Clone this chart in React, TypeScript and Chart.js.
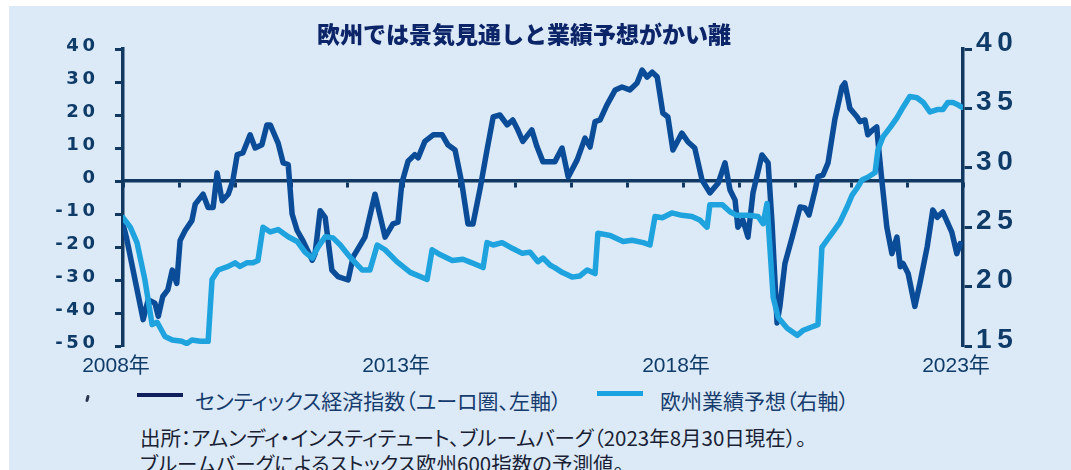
import React, { useEffect, useRef } from "react";
import { Chart, registerables } from "chart.js";

Chart.register(...registerables);

// ---- data (decimal year, value) ----
const sentixDates = [
  2008.0, 2008.06, 2008.36, 2008.45, 2008.57, 2008.63, 2008.71, 2008.8, 2008.88, 2008.96,
  2009.02, 2009.11, 2009.23, 2009.29, 2009.43, 2009.52, 2009.61, 2009.68, 2009.77, 2009.88,
  2009.96, 2010.04, 2010.14, 2010.27, 2010.36, 2010.48, 2010.57, 2010.63, 2010.77, 2010.86,
  2010.95, 2011.02, 2011.11, 2011.21, 2011.38, 2011.43, 2011.52, 2011.61, 2011.73, 2011.84,
  2012.02, 2012.11, 2012.32, 2012.5, 2012.68, 2012.82, 2012.91, 2012.98, 2013.09, 2013.21,
  2013.27, 2013.39, 2013.54, 2013.7, 2013.8, 2013.93, 2014.05, 2014.16, 2014.25, 2014.38,
  2014.5, 2014.61, 2014.73, 2014.86, 2014.96, 2015.05, 2015.14, 2015.3, 2015.39, 2015.5,
  2015.63, 2015.71, 2015.84, 2015.95, 2016.11, 2016.25, 2016.34, 2016.43, 2016.52, 2016.64,
  2016.79, 2016.91, 2017.05, 2017.18, 2017.27, 2017.36, 2017.45, 2017.54, 2017.64, 2017.73,
  2017.82, 2017.98, 2018.09, 2018.21, 2018.34, 2018.48, 2018.63, 2018.75, 2018.84, 2018.93,
  2018.98, 2019.07, 2019.16, 2019.25, 2019.41, 2019.52, 2019.59, 2019.68, 2019.73, 2019.82,
  2019.95, 2020.09, 2020.18, 2020.25, 2020.36, 2020.41, 2020.5, 2020.59, 2020.71, 2020.84,
  2020.89, 2020.98, 2021.11, 2021.16, 2021.25, 2021.3, 2021.39, 2021.46, 2021.48, 2021.55,
  2021.64, 2021.73, 2021.82, 2021.88, 2021.93, 2022.02, 2022.14, 2022.23, 2022.36, 2022.46,
  2022.54, 2022.64, 2022.8, 2022.89, 2022.95,
];
const sentixValues = [
  -13, -17, -42, -36, -37, -41, -35, -33, -27, -31,
  -18, -15, -12, -7, -4, -8, -8, 2.4, -6, -4,
  0, 8, 8.5, 14, 10, 11, 17, 17, 11.5, 5.5,
  5, -10, -15, -18, -24, -22, -9, -11, -27, -29,
  -30, -23, -17, -4, -17, -13, -12.5, -0.6, 6, 8,
  7, 12, 14, 14, 11, 9.4, -0.6, -13, -13, -2,
  9.4, 19.4, 20, 17, 18.5, 15.5, 12, 15.5, 10.5, 5.8,
  5.8, 5.8, 10, 1.2, 6.4, 13, 10.3, 18, 18.5, 23,
  27.6, 28.5, 27.6, 29.7, 33.6, 31.5, 33, 31.5, 20.6, 19.4,
  9.4, 14.5, 11.8, 10, 0.3, -3.6, -0.6, 5.5, -2.7, -5.8,
  -14, -11.8, -17, -3.6, 7.9, 5.5, -12.7, -43, -38, -25,
  -17, -7.9, -8.2, -10.3, -2.7, 1.3, 1.8, 5.5, 18.5, 28.5,
  29.7, 22, 19.4, 18, 18.5, 14, 15.5, 16.4, 12.4, 0.3,
  -14, -22, -17, -26, -25, -28, -38, -31, -20, -8.8,
  -11, -9.4, -15.5, -22, -19,
];

const epsDates = [
  2008.0, 2008.13, 2008.25, 2008.39, 2008.52, 2008.61, 2008.75, 2008.88, 2009.05, 2009.14,
  2009.23, 2009.38, 2009.52, 2009.59, 2009.7, 2009.88, 2010.0, 2010.09, 2010.21, 2010.32,
  2010.41, 2010.5, 2010.63, 2010.77, 2010.95, 2011.11, 2011.25, 2011.38, 2011.48, 2011.61,
  2011.75, 2011.88, 2012.05, 2012.27, 2012.41, 2012.54, 2012.68, 2012.89, 2013.13, 2013.43,
  2013.52, 2013.66, 2013.88, 2014.07, 2014.23, 2014.43, 2014.5, 2014.61, 2014.77, 2014.96,
  2015.13, 2015.27, 2015.41, 2015.5, 2015.63, 2015.71, 2015.84, 2016.02, 2016.16, 2016.29,
  2016.43, 2016.48, 2016.7, 2016.93, 2017.09, 2017.29, 2017.41, 2017.5, 2017.63, 2017.8,
  2017.98, 2018.16, 2018.3, 2018.43, 2018.48, 2018.7, 2018.84, 2018.96, 2019.16, 2019.34,
  2019.43, 2019.5, 2019.61, 2019.7, 2019.86, 2020.04, 2020.14, 2020.3, 2020.41, 2020.48,
  2020.57, 2020.68, 2020.8, 2020.93, 2021.02, 2021.11, 2021.2, 2021.3, 2021.43, 2021.48,
  2021.57, 2021.7, 2021.82, 2021.93, 2022.05, 2022.18, 2022.29, 2022.41, 2022.54, 2022.64,
  2022.73, 2022.82, 2022.91, 2022.98,
];
const epsValues = [
  25.8, 25, 23.7, 20.6, 16.8, 17, 15.8, 15.5, 15.4, 15.2,
  15.5, 15.4, 15.4, 20.6, 21.4, 21.7, 22, 21.7, 22, 22,
  22.2, 25, 24.6, 24.8, 24.2, 23.8, 22.9, 22.4, 23.3, 24.2,
  24.1, 23.5, 22.5, 21.4, 21.4, 23.5, 23.1, 22.1, 21.2, 20.6,
  23.1, 22.7, 22.2, 22.3, 22, 21.6, 23.7, 23.5, 23.7, 23.2,
  22.8, 22.9, 22.1, 22.4, 21.8, 21.6, 21.2, 20.8, 20.9, 21.4,
  21.1, 24.5, 24.3, 23.8, 23.9, 23.7, 23.5, 25.9, 25.8, 26.2,
  26, 25.9, 25.6, 25, 26.9, 26.9, 26.3, 26, 26, 25.9,
  25.3, 27, 19.1, 17.4, 16.5, 15.9, 16.3, 16.6, 16.8, 23.3,
  23.9, 24.6, 25.4, 26.7, 27.7, 28.3, 29, 29.2, 29.6, 31.5,
  32.6, 33.4, 34.2, 35.1, 36, 35.9, 35.5, 34.7, 34.9, 34.9,
  35.5, 35.5, 35.3, 35.1,
];

const yearLabelYears = [2008, 2013, 2018, 2023];
const titleText = "欧州では景気見通しと業績予想がかい離";
const legendLabels = ["センティックス経済指数（ユーロ圏、左軸）", "欧州業績予想（右軸）"];
const sourceLines = [
  "出所：アムンディ・インスティテュート、ブルームバーグ（2023年8月30日現在）。",
  "ブルームバーグによるストックス欧州600指数の予測値。",
];

// ---- styles ----
const BG = "#dceaf7";
const AXIS = "#103860";
const DARK = "#0b4c99";
const LIGHT = "#1ea3de";
const LABEL = "#0f3b68";
const LATIN = "'Liberation Sans', Arial, 'Noto Sans CJK JP', sans-serif";
const CJK = "'Noto Sans CJK JP', 'Liberation Sans', sans-serif";

const spaced = (v: number | string) => String(v).split("").join("\u2009");

export default function App() {
  const ref = useRef<HTMLCanvasElement | null>(null);

  useEffect(() => {
    if (!ref.current) return;
    const chart = new Chart(ref.current, {
      type: "line",
      data: {
        datasets: [
          {
            label: legendLabels[1],
            data: epsDates.map((x, i) => ({ x, y: epsValues[i] })),
            xAxisID: "x",
            yAxisID: "y1",
            borderColor: LIGHT,
            borderWidth: 5.5,
            pointRadius: 0,
            tension: 0,
            borderJoinStyle: "round",
            borderCapStyle: "round",
            order: 0,
          },
          {
            label: legendLabels[0],
            data: sentixDates.map((x, i) => ({ x, y: sentixValues[i] })),
            xAxisID: "x",
            yAxisID: "y",
            borderColor: DARK,
            borderWidth: 5.5,
            pointRadius: 0,
            tension: 0,
            borderJoinStyle: "round",
            borderCapStyle: "round",
            order: 1,
          },
        ],
      },
      options: {
        responsive: false,
        animation: false,
        layout: { padding: { top: 49, left: 0, right: 0, bottom: 0 } },
        plugins: {
          legend: { display: false },
          title: { display: false },
          tooltip: { enabled: false },
        },
        scales: {
          x: {
            type: "linear",
            position: "bottom",
            min: 2008,
            max: 2023,
            grid: { display: false },
            border: { display: false },
            ticks: {
              color: LABEL,
              font: { size: 21, family: LATIN },
              padding: 0,
              labelOffset: -7,
              maxRotation: 0,
              autoSkip: false,
              callback: (v: any) => `${v}年`,
            },
            afterBuildTicks: (s: any) => {
              s.ticks = yearLabelYears.map((v) => ({ value: v }));
            },
            afterFit: (s: any) => {
              s.height = 34;
            },
          },
          x0: {
            type: "linear",
            axis: "x",
            position: { y: 0 },
            min: 2008,
            max: 2023,
            ticks: { display: false, stepSize: 1 },
            grid: {
              display: true,
              drawOnChartArea: false,
              drawTicks: true,
              tickLength: 5,
              tickWidth: 3,
              tickColor: AXIS,
            },
            border: { display: true, color: AXIS, width: 3.5 },
          },
          y: {
            position: "left",
            min: -50,
            max: 40,
            ticks: {
              stepSize: 10,
              color: LABEL,
              font: { size: 18, weight: "bold", family: "'DejaVu Sans', sans-serif" },
              padding: 20,
              labelOffset: -3,
              callback: (v: any) => spaced(v),
            },
            grid: {
              drawOnChartArea: false,
              drawTicks: true,
              tickLength: 8,
              tickWidth: 3,
              tickColor: AXIS,
            },
            border: { display: true, color: AXIS, width: 3.5 },
            afterFit: (s: any) => {
              s.width = 123;
            },
          },
          y1: {
            position: "right",
            min: 15,
            max: 40,
            ticks: {
              stepSize: 5,
              color: LABEL,
              font: { size: 28, weight: "bold", family: "'Liberation Sans', Arial, sans-serif" },
              padding: 4,
              labelOffset: -6,
              callback: (v: any) => spaced(v),
            },
            grid: {
              drawOnChartArea: false,
              drawTicks: true,
              tickLength: 9,
              tickWidth: 3,
              tickColor: AXIS,
            },
            border: { display: true, color: AXIS, width: 3.5 },
            afterFit: (s: any) => {
              s.width = 108;
            },
          },
        },
      } as any,
    });
    return () => chart.destroy();
  }, []);

  const textBox = (
    text: string,
    left: number,
    centerY: number,
    size: number,
    color: string,
    extra: React.CSSProperties = {}
  ) => {
    const lh = Math.round(size * 1.4);
    return (
      <div
        style={{
          position: "absolute",
          left,
          top: centerY - lh / 2,
          lineHeight: `${lh}px`,
          fontSize: size,
          fontFamily: CJK,
          color,
          whiteSpace: "nowrap",
          fontFeatureSettings: '"palt"',
          ...extra,
        }}
      >
        {text}
      </div>
    );
  };

  return (
    <div
      style={{
        position: "absolute",
        left: 0,
        top: 0,
        width: 1071,
        height: 470,
        background: "#ffffff",
        overflow: "hidden",
      }}
    >
      <div style={{ position: "absolute", left: 9, top: 6, right: 0, bottom: 0, background: BG }} />
      <canvas
        ref={ref}
        width={1071}
        height={380}
        style={{ position: "absolute", left: 0, top: 0, width: 1071, height: 380 }}
      />
      <div
        style={{
          position: "absolute",
          left: 0,
          width: 1048,
          top: 18,
          lineHeight: "30px",
          textAlign: "center",
          fontSize: 23,
          fontWeight: 900,
          fontFamily: CJK,
          color: "#0c2468",
          whiteSpace: "nowrap",
        }}
      >
        {titleText}
      </div>
      <div
        style={{
          position: "absolute",
          left: 86,
          top: 395,
          width: 3,
          height: 7,
          borderRadius: 2,
          background: "#2a3550",
          transform: "rotate(15deg)",
        }}
      />
      <div style={{ position: "absolute", left: 137, top: 393, width: 46, height: 4, background: "#0f1f5c" }} />
      {textBox(legendLabels[0], 195, 400, 21, "#163c6e")}
      <div style={{ position: "absolute", left: 597, top: 391, width: 46, height: 5, background: "#1aa3e0" }} />
      {textBox(legendLabels[1], 660, 400, 21, "#163c6e")}
      {textBox(sourceLines[0], 140, 437, 20.5, "#1a1f35")}
      {textBox(sourceLines[1], 140, 463, 20.5, "#1a1f35")}
    </div>
  );
}
